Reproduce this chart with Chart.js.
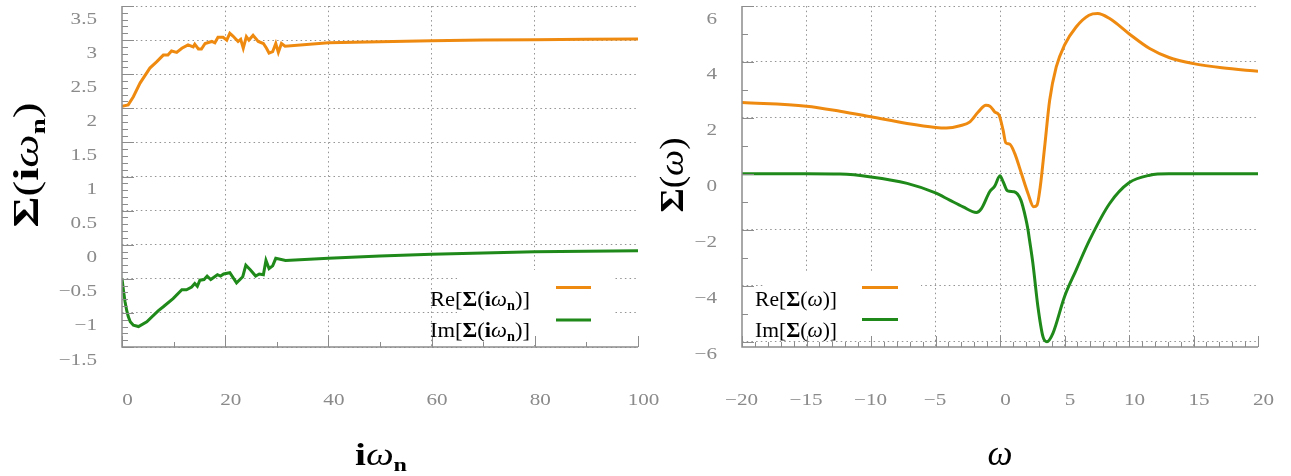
<!DOCTYPE html>
<html>
<head>
<meta charset="utf-8">
<script src="https://cdn.jsdelivr.net/npm/chart.js@4"></script>
<style>
  html, body { margin: 0; padding: 0; background: #fff; }
  .panel { position: absolute; top: 0; }
  #left { left: 0; }
  #right { left: 645px; }
</style>
</head>
<body>
<div class="panel" id="left"><canvas id="matsChart" width="700" height="476"></canvas></div>
<div class="panel" id="right"><canvas id="realChart" width="646" height="476"></canvas></div>
<script>
// ---- left panel: self energy on the Matsubara axis ----
const matsReX = [0, 1.2, 2.2, 3.5, 5.4, 6.7, 8.0, 8.9, 9.6, 10.6,
  11.6, 12.8, 13.8, 14.1, 14.8, 15.4, 16.1, 17.4, 18.0, 18.6,
  19.6, 20.3, 20.9, 21.5, 22.5, 23.0, 23.5, 24.1, 24.6, 25.4,
  26.4, 27.4, 28.0, 28.5, 29.2, 29.8, 30.3, 30.9, 31.6, 40,
  50, 60, 70, 80, 90, 100];
const matsReY = [2.03, 2.05, 2.17, 2.37, 2.59, 2.68, 2.78, 2.78, 2.84, 2.82,
  2.88, 2.93, 2.90, 2.94, 2.87, 2.87, 2.95, 2.98, 2.96, 3.04,
  3.04, 3.00, 3.10, 3.06, 2.98, 3.01, 2.88, 3.05, 3.00, 3.07,
  2.98, 2.95, 2.88, 2.81, 2.83, 2.95, 2.82, 2.95, 2.91, 2.96,
  2.975, 2.99, 3.0, 3.006, 3.012, 3.016];

const matsImX = [0, 0.3, 0.6, 0.9, 1.2, 1.6, 2.2, 3.2, 4.8, 7.0,
  8.0, 9.9, 11.6, 12.5, 13.5, 14.1, 14.6, 15.1, 15.9, 16.5,
  17.2, 18.5, 19.1, 19.7, 20.9, 22.2, 23.4, 24.0, 24.9, 25.9,
  26.6, 27.4, 27.9, 28.5, 29.2, 29.8, 31.7, 40, 50, 60,
  70, 80, 90, 100];
const matsImY = [-0.50, -0.68, -0.84, -0.96, -1.05, -1.13, -1.18, -1.20, -1.13, -0.97,
  -0.91, -0.79, -0.66, -0.66, -0.62, -0.57, -0.61, -0.52, -0.51, -0.46,
  -0.51, -0.44, -0.46, -0.43, -0.41, -0.56, -0.47, -0.30, -0.37, -0.46,
  -0.43, -0.44, -0.23, -0.35, -0.31, -0.20, -0.23, -0.20, -0.165, -0.14,
  -0.12, -0.105, -0.097, -0.09];

const matsXTicks = [0, 20, 40, 60, 80, 100];
const matsXLabels = ['0', '20', '40', '60', '80', '100'];
const matsYTicks = [-1.5, -1, -0.5, 0, 0.5, 1, 1.5, 2, 2.5, 3, 3.5];
const matsYLabels = ['\u22121.5', '\u22121', '\u22120.5', '0', '0.5', '1', '1.5', '2', '2.5', '3', '3.5'];

// ---- right panel: self energy on the real axis ----
const realReX = [-20, -15, -12.4, -10, -7.2, -5, -4.15, -3.1, -2.33, -1.69,
  -1.09, -0.78, -0.4, -0.07, 0.24, 0.45, 0.75, 1.14, 1.66, 2.17,
  2.61, 2.87, 3.12, 3.46, 3.85, 4.36, 5.0, 5.9, 6.9, 7.57,
  8.5, 10, 11.6, 13.1, 15, 17.2, 20];
const realReY = [2.55, 2.42, 2.24, 2.04, 1.80, 1.66, 1.64, 1.72, 1.86, 2.21,
  2.45, 2.42, 2.21, 2.10, 1.56, 1.11, 1.06, 0.73, 0.01, -0.70,
  -1.18, -1.12, -0.46, 0.96, 2.63, 3.82, 4.60, 5.25, 5.67, 5.73,
  5.55, 5.01, 4.48, 4.16, 3.94, 3.79, 3.67];

const realImX = [-20, -15, -12.4, -10, -7.2, -5, -3.9, -2.86, -1.83, -1.44,
  -0.8, -0.41, 0.0, 0.25, 0.59, 1.1, 1.62, 2.0, 2.17, 2.3,
  2.55, 2.94, 3.33, 3.64, 4.1, 5.0, 5.9, 6.94, 8.5, 10,
  11.6, 13.1, 20];
const realImY = [0, 0, -0.01, -0.11, -0.34, -0.68, -0.94, -1.18, -1.38, -1.24,
  -0.64, -0.44, -0.07, -0.29, -0.61, -0.64, -0.94, -1.6, -2.0, -2.4,
  -3.2, -4.75, -5.82, -6.0, -5.7, -4.39, -3.44, -2.37, -1.06, -0.32,
  -0.05, 0, 0];

const realXTicks = [-20, -15, -10, -5, 0, 5, 10, 15, 20];
const realXLabels = ['\u221220', '\u221215', '\u221210', '\u22125', '0', '5', '10', '15', '20'];
const realYTicks = [-6, -4, -2, 0, 2, 4, 6];
const realYLabels = ['\u22126', '\u22124', '\u22122', '0', '2', '4', '6'];

// ---- styling ----
const SERIF = '"Liberation Serif", "Times New Roman", serif';
const ORANGE = '#ef8a11';
const GREEN = '#1f8a1a';
const GRID = '#939393';
const AXIS = '#8c8c8c';
const TICKTXT = '#8a8a8a';

const pts = (xs, ys) => xs.map((x, i) => ({ x: x, y: ys[i] }));

// rich text pieces: text, font style, relative size, baseline shift (in em)
function seg(t, style, rel, dy) { return { t: t, style: style || '', rel: rel || 1, dy: dy || 0 }; }
const fontOf = (p, size) => [p.style, Math.round(size * p.rel) + 'px', SERIF].filter(Boolean).join(' ');

function richWidth(ctx, parts, size) {
  let w = 0;
  parts.forEach(p => { ctx.font = fontOf(p, size); w += ctx.measureText(p.t).width; });
  return w;
}

function drawRich(ctx, parts, size, x, y, o) {
  o = o || {};
  ctx.save();
  ctx.translate(x, y);
  if (o.rot) ctx.rotate(o.rot);
  const w0 = richWidth(ctx, parts, size);
  const sx = o.width ? o.width / w0 : (o.sx || 1);
  ctx.scale(sx, 1);
  let cx = o.align === 'center' ? -w0 / 2 : o.align === 'right' ? -w0 : 0;
  ctx.fillStyle = o.color || '#000';
  ctx.textAlign = 'left';
  ctx.textBaseline = 'alphabetic';
  parts.forEach(p => {
    ctx.font = fontOf(p, size);
    ctx.fillText(p.t, cx, p.dy * size);
    cx += ctx.measureText(p.t).width;
  });
  ctx.restore();
}

const SIG_IWN = [seg('\u03a3', 'bold'), seg('('), seg('i', 'bold'), seg('\u03c9', 'italic'), seg('n', 'bold', 0.62, 0.2), seg(')')];
const SIG_W = [seg('\u03a3', 'bold'), seg('('), seg('\u03c9', 'italic'), seg(')')];

// axis lines, inward ticks, tick labels, titles and the legend
function decor(o) {
  return {
    id: 'decor',
    afterDraw(chart) {
      const ctx = chart.ctx;
      const a = chart.chartArea;
      const xs = chart.scales.x, ys = chart.scales.y;
      ctx.save();

      // legend background hides the grid behind it
      ctx.fillStyle = '#fff';
      ctx.fillRect(o.legendBox[0], o.legendBox[1], o.legendBox[2] - o.legendBox[0], o.legendBox[3] - o.legendBox[1]);

      // axis lines
      ctx.strokeStyle = AXIS;
      ctx.lineWidth = 1.5;
      ctx.beginPath();
      ctx.moveTo(a.left, a.top);
      ctx.lineTo(a.left, a.bottom);
      ctx.lineTo(a.right, a.bottom);
      ctx.stroke();

      // ticks pointing into the plot
      ctx.lineWidth = 1;
      const isMajor = (v, m) => Math.abs(v / m - Math.round(v / m)) < 1e-6;
      let n = Math.round((o.yMinor[1] - o.yMinor[0]) / o.yMinor[2]);
      for (let i = 0; i <= n; i++) {
        const v = o.yMinor[0] + i * o.yMinor[2];
        const py = Math.round(ys.getPixelForValue(v)) + 0.5;
        const len = isMajor(v, o.yMajor) ? 12 : 6;
        ctx.beginPath(); ctx.moveTo(a.left, py); ctx.lineTo(a.left + len, py); ctx.stroke();
      }
      n = Math.round((o.xMinor[1] - o.xMinor[0]) / o.xMinor[2]);
      for (let i = 0; i <= n; i++) {
        const v = o.xMinor[0] + i * o.xMinor[2];
        const px = Math.round(xs.getPixelForValue(v)) + 0.5;
        const len = isMajor(v, o.xMajor) ? 11 : 5;
        ctx.beginPath(); ctx.moveTo(px, a.bottom); ctx.lineTo(px, a.bottom - len); ctx.stroke();
      }

      // tick labels
      o.yTicks.forEach((v, i) => {
        drawRich(ctx, [seg(o.yLabels[i])], 16, a.left - 25, ys.getPixelForValue(v) + 17.5,
          { align: 'right', sx: 1.32, color: TICKTXT });
      });
      o.xTicks.forEach((v, i) => {
        const lab = o.xLabels[i];
        const neg = lab[0] === '\u2212';
        ctx.font = '16px ' + SERIF;
        const dw = ctx.measureText(neg ? lab.slice(1) : lab).width * 1.32;
        const mw = neg ? ctx.measureText('\u2212').width * 1.32 : 0;
        const px = xs.getPixelForValue(v) + 5.5 - dw / 2 - mw;
        drawRich(ctx, [seg(lab)], 16, px, 405, { sx: 1.32, color: TICKTXT });
      });

      // legend entries
      o.legend.forEach(it => {
        drawRich(ctx, it.parts, 22, it.tx, it.ty, { width: it.w });
        ctx.strokeStyle = it.color;
        ctx.lineWidth = 3;
        ctx.beginPath(); ctx.moveTo(it.l0, it.ly); ctx.lineTo(it.l1, it.ly); ctx.stroke();
      });

      // axis titles
      drawRich(ctx, o.xTitle, o.xTitleSize, o.xTitlePos[0], o.xTitlePos[1], { align: 'center', width: o.xTitleW });
      drawRich(ctx, o.yTitle, o.yTitleSize, o.yTitlePos[0], o.yTitlePos[1],
        { align: 'center', width: o.yTitleW, rot: -Math.PI / 2 });
      ctx.restore();
    }
  };
}

function gridColor(edges) {
  return c => (c.tick && edges.indexOf(c.tick.value) >= 0) ? 'rgba(0,0,0,0)' : GRID;
}

function makeChart(el, cfg) {
  return new Chart(document.getElementById(el), {
    type: 'line',
    data: { datasets: cfg.datasets },
    options: {
      responsive: false,
      animation: false,
      events: [],
      layout: { autoPadding: false, padding: cfg.padding },
      plugins: { legend: { display: false }, tooltip: { enabled: false } },
      elements: { point: { radius: 0 } },
      scales: {
        x: {
          type: 'linear', min: cfg.xMin, max: cfg.xMax,
          afterBuildTicks: s => { s.ticks = cfg.xTicks.map(v => ({ value: v })); },
          afterFit: s => { s.height = 129; },
          ticks: { display: false },
          grid: { color: gridColor(cfg.xEdges), lineWidth: 1, drawTicks: false },
          border: { display: false, dash: [1.5, 3.2] }
        },
        y: {
          min: cfg.yMin, max: cfg.yMax,
          afterBuildTicks: s => { s.ticks = cfg.yTicks.map(v => ({ value: v })); },
          afterFit: s => { s.width = cfg.yWidth; },
          ticks: { display: false },
          grid: { color: GRID, lineWidth: 1, drawTicks: false },
          border: { display: false, dash: [1.5, 3.2] }
        }
      }
    },
    plugins: [decor(cfg.decor)]
  });
}

// left canvas is wider than its half so the "100" label is not clipped
makeChart('matsChart', {
  padding: { top: 6, right: 62, left: 0, bottom: 0 },
  xMin: 0, xMax: 100, xTicks: matsXTicks, xEdges: [0, 100],
  yMin: -1.5, yMax: 3.5, yTicks: matsYTicks, yWidth: 122,
  datasets: [
    { label: 'Re', data: pts(matsReX, matsReY), borderColor: ORANGE, borderWidth: 3, tension: 0 },
    { label: 'Im', data: pts(matsImX, matsImY), borderColor: GREEN, borderWidth: 3, tension: 0 }
  ],
  decor: {
    legendBox: [457, 270, 615, 345],
    yMinor: [-1.5, 3.5, 0.1], yMajor: 0.5,
    xMinor: [0, 100, 10], xMajor: 20,
    xTicks: matsXTicks, xLabels: matsXLabels,
    yTicks: matsYTicks, yLabels: matsYLabels,
    legend: [
      { parts: [seg('Re[')].concat(SIG_IWN, [seg(']')]), tx: 430, ty: 306, w: 100, color: ORANGE, l0: 556, l1: 591, ly: 287.5 },
      { parts: [seg('Im[')].concat(SIG_IWN, [seg(']')]), tx: 430, ty: 336.5, w: 100, color: GREEN, l0: 556, l1: 591, ly: 320 }
    ],
    xTitle: [seg('i', 'bold'), seg('\u03c9', 'italic'), seg('n', 'bold', 0.62, 0.2)],
    xTitleSize: 31, xTitlePos: [381, 465], xTitleW: 52,
    yTitle: SIG_IWN, yTitleSize: 36, yTitlePos: [38, 165], yTitleW: 125
  }
});

makeChart('realChart', {
  padding: { top: 6, right: 33, left: 0, bottom: 0 },
  xMin: -20, xMax: 20, xTicks: realXTicks, xEdges: [-20, 20],
  yMin: -6.19, yMax: 6, yTicks: realYTicks, yWidth: 97,
  datasets: [
    { label: 'Re', data: pts(realReX, realReY), borderColor: ORANGE, borderWidth: 3, cubicInterpolationMode: 'monotone' },
    { label: 'Im', data: pts(realImX, realImY), borderColor: GREEN, borderWidth: 3, cubicInterpolationMode: 'monotone' }
  ],
  decor: {
    legendBox: [120, 272, 276, 338],
    yMinor: [-6, 6, 1], yMajor: 2,
    xMinor: [-20, 20, 1], xMajor: 5,
    xTicks: realXTicks, xLabels: realXLabels,
    yTicks: realYTicks, yLabels: realYLabels,
    legend: [
      { parts: [seg('Re[')].concat(SIG_W, [seg(']')]), tx: 110, ty: 306, w: 82, color: ORANGE, l0: 217, l1: 253, ly: 287.5 },
      { parts: [seg('Im[')].concat(SIG_W, [seg(']')]), tx: 110, ty: 337, w: 82, color: GREEN, l0: 217, l1: 253, ly: 319.5 }
    ],
    xTitle: [seg('\u03c9', 'italic')],
    xTitleSize: 36, xTitlePos: [355, 465], xTitleW: 25,
    yTitle: SIG_W, yTitleSize: 33, yTitlePos: [38, 175], yTitleW: 75
  }
});
</script>
</body>
</html>
